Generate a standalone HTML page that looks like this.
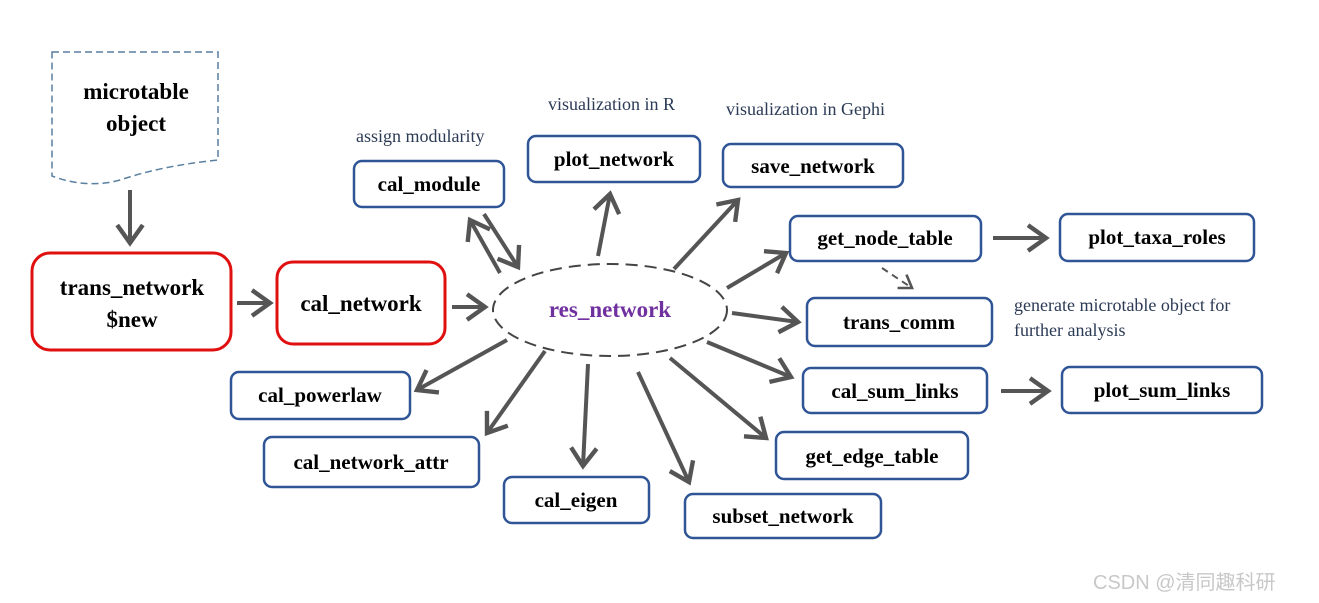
<!DOCTYPE html>
<html><head><meta charset="utf-8"><style>
html,body{margin:0;padding:0;background:#fff;width:1319px;height:603px;overflow:hidden}
svg{display:block}
.b{fill:#fff;stroke:#2f5597;stroke-width:2.5}
.r{fill:#fff;stroke:#e01010;stroke-width:3}
.t{font-family:"Liberation Serif",serif;font-weight:bold;font-size:21px;fill:#000;text-anchor:middle}
.n{font-family:"Liberation Serif",serif;font-size:18px;fill:#2b3a55}
.a{stroke:#555;stroke-width:4;fill:none;marker-end:url(#h)}
</style></head><body>
<svg width="1319" height="603" viewBox="0 0 1319 603">
<defs>
<marker id="h" markerWidth="8" markerHeight="8" refX="5.5" refY="4" orient="auto" markerUnits="strokeWidth">
<polyline points="1,0.8 5.5,4 1,7.2" fill="none" stroke="#555" stroke-width="1.1"/>
</marker>
<marker id="h2" markerWidth="12" markerHeight="12" refX="8" refY="6" orient="auto" markerUnits="strokeWidth">
<polyline points="2,2 8,6 2,10" fill="none" stroke="#555" stroke-width="1.3"/>
</marker>
</defs>
<!-- microtable -->
<path d="M52,52 H218 V160 C180,164 150,170 120,180 C95,187 70,183 52,176 Z" fill="#fff" stroke="#5a7fa0" stroke-width="1.5" stroke-dasharray="7,4"/>
<text class="t" x="136" y="99" style="font-size:23px">microtable</text>
<text class="t" x="136" y="131" style="font-size:23px">object</text>
<rect class="r" x="32" y="253" width="199" height="97" rx="18"/>
<text class="t" x="132" y="295" style="font-size:23px">trans_network</text>
<text class="t" x="132" y="327" style="font-size:23px">$new</text>
<rect class="r" x="277" y="262" width="168" height="82" rx="16"/>
<text class="t" x="361" y="311" style="font-size:23px">cal_network</text>
<ellipse cx="610" cy="310" rx="117" ry="46" fill="#fff" stroke="#444" stroke-width="2" stroke-dasharray="12,7"/>
<text class="t" x="610" y="317" style="fill:#7030a0;font-size:23px">res_network</text>
<rect class="b" x="354" y="161" width="150" height="46" rx="8"/><text class="t" x="429" y="191">cal_module</text>
<rect class="b" x="528" y="136" width="172" height="46" rx="8"/><text class="t" x="614" y="166">plot_network</text>
<rect class="b" x="723" y="144" width="180" height="43" rx="8"/><text class="t" x="813" y="173">save_network</text>
<rect class="b" x="790" y="216" width="191" height="45" rx="8"/><text class="t" x="885" y="245">get_node_table</text>
<rect class="b" x="1060" y="214" width="194" height="47" rx="8"/><text class="t" x="1157" y="244">plot_taxa_roles</text>
<rect class="b" x="807" y="298" width="185" height="48" rx="8"/><text class="t" x="899" y="329">trans_comm</text>
<rect class="b" x="803" y="368" width="184" height="45" rx="8"/><text class="t" x="895" y="398">cal_sum_links</text>
<rect class="b" x="1062" y="367" width="200" height="46" rx="8"/><text class="t" x="1162" y="397">plot_sum_links</text>
<rect class="b" x="776" y="432" width="192" height="47" rx="8"/><text class="t" x="872" y="463">get_edge_table</text>
<rect class="b" x="685" y="494" width="196" height="44" rx="8"/><text class="t" x="783" y="523">subset_network</text>
<rect class="b" x="504" y="477" width="145" height="46" rx="8"/><text class="t" x="576" y="507">cal_eigen</text>
<rect class="b" x="264" y="437" width="215" height="50" rx="8"/><text class="t" x="371" y="469">cal_network_attr</text>
<rect class="b" x="231" y="372" width="179" height="47" rx="8"/><text class="t" x="320" y="402">cal_powerlaw</text>
<text class="n" x="356" y="142">assign modularity</text>
<text class="n" x="548" y="110">visualization in R</text>
<text class="n" x="726" y="115">visualization in Gephi</text>
<text class="n" x="1014" y="311">generate microtable object for</text>
<text class="n" x="1014" y="336">further analysis</text>
<text x="1093" y="589" style="font-family:'Liberation Sans','Noto Sans CJK SC',sans-serif;font-size:20px;fill:#c8c8c8">CSDN @清同趣科研</text>
<!-- arrows -->
<line class="a" x1="130" y1="190" x2="130" y2="243"/>
<line class="a" x1="237" y1="303" x2="270" y2="303"/>
<line class="a" x1="452" y1="307" x2="485" y2="307"/>
<line class="a" x1="500" y1="273" x2="470" y2="220"/>
<line class="a" x1="484" y1="214" x2="518" y2="267"/>
<line class="a" x1="598" y1="256" x2="610" y2="194"/>
<line class="a" x1="674" y1="269" x2="738" y2="200"/>
<line class="a" x1="727" y1="288" x2="786" y2="253"/>
<line class="a" x1="732" y1="313" x2="798" y2="322"/>
<line class="a" x1="707" y1="342" x2="791" y2="377"/>
<line class="a" x1="670" y1="358" x2="766" y2="438"/>
<line class="a" x1="638" y1="372" x2="689" y2="482"/>
<line class="a" x1="588" y1="364" x2="583" y2="466"/>
<line class="a" x1="545" y1="351" x2="487" y2="433"/>
<line class="a" x1="507" y1="340" x2="417" y2="390"/>
<line class="a" x1="993" y1="238" x2="1046" y2="238"/>
<line class="a" x1="1001" y1="391" x2="1048" y2="391"/>
<line x1="882" y1="268" x2="912" y2="288" stroke="#555" stroke-width="2" stroke-dasharray="7,5" marker-end="url(#h2)"/>
</svg>
</body></html>
